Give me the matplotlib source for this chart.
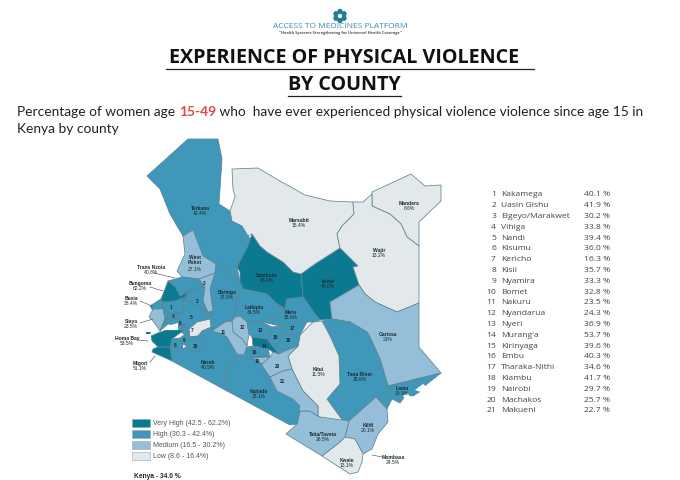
import matplotlib
matplotlib.use("Agg")
import matplotlib.pyplot as plt
from matplotlib.patches import Polygon, Rectangle, Circle

# table on the right
table_names = ["Kakamega", "Uasin Gishu", "Elgeyo/Marakwet", "Vihiga", "Nandi", "Kisumu", "Kericho",
               "Kisii", "Nyamira", "Bomet", "Nakuru", "Nyandarua", "Nyeri", "Murang'a", "Kirinyaga",
               "Embu", "Tharaka-Nithi", "Kiambu", "Nairobi", "Machakos", "Makueni"]
table_values = [40.1, 41.9, 30.2, 33.8, 39.4, 36.0, 16.3, 35.7, 33.3, 32.8, 23.5, 24.3, 36.9, 53.7,
                39.6, 40.3, 34.6, 41.7, 29.7, 25.7, 22.7]

# counties named directly on the map
other_names = ["Turkana", "West Pokot", "Marsabit", "Mandera", "Wajir", "Samburu", "Isiolo", "Garissa",
               "Tana River", "Lamu", "Kitui", "Kilifi", "Kwale", "Mombasa", "Taita/Taveta", "Kajiado",
               "Narok", "Baringo", "Laikipia", "Meru", "Trans Nzoia", "Bungoma", "Busia", "Siaya",
               "Homa Bay", "Migori"]
other_values = [42.4, 27.1, 15.4, 8.6, 13.2, 46.9, 46.0, 21.0, 35.6, 30.9, 11.5, 20.1, 13.1, 24.5,
                26.5, 36.1, 40.5, 37.9, 34.5, 35.6, 40.8, 62.2, 38.4, 23.5, 53.5, 51.1]
other_texts = ["42.4%", "27.1%", "15.4%", "8.6%", "13.2%", "46.9%", "46.0%", "21%", "35.6%", "30.9%",
               "11.5%", "20.1%", "13.1%", "24.5%", "26.5%", "36.1%", "40.5%", "37.9%", "34.5%",
               "35.6%", "40.8%", "62.2%", "38.4%", "23.5%", "53.5%", "51.1%"]

legend_labels = ["Very High (42.5 - 62.2%)", "High (30.3 - 42.4%)", "Medium (16.5 - 30.2%)", "Low (8.6 - 16.4%)"]
legend_colors = ["#0b7a90", "#3f98b9", "#95bfd9", "#e3e9ea"]
class_limits = [42.4, 30.2, 16.4]

values = dict(zip(table_names + other_names, table_values + other_values))

# county outlines, pixel coordinates
shapes = {
    "Turkana": [(147, 177), (188, 140), (218, 140), (222, 160), (219, 205), (230, 212), (232, 222), (242, 227),
                (248, 237), (252, 242), (237, 268), (240, 283), (216, 265), (203, 257), (193, 231), (183, 237),
                (177, 227), (170, 215), (160, 190)],
    "West Pokot": [(193, 231), (183, 237), (185, 255), (177, 272), (182, 278), (199, 280), (215, 274), (216, 265),
                   (203, 257)],
    "Baringo": [(216, 265), (240, 283), (243, 290), (237, 298), (235, 318), (232, 322), (225, 323), (212, 332),
                (212, 328), (209, 320), (213, 312), (210, 290), (215, 274)],
    "Samburu": [(252, 235), (260, 247), (267, 253), (283, 263), (293, 273), (301, 275), (303, 298), (287, 300),
                (285, 310), (276, 304), (267, 295), (257, 293), (243, 290), (240, 283), (240, 273), (237, 268),
                (248, 247)],
    "Isiolo": [(340, 249), (358, 267), (353, 268), (359, 286), (330, 303), (332, 320), (320, 321), (315, 315),
               (303, 298), (301, 275), (315, 265)],
    "Marsabit": [(232, 170), (258, 169), (280, 182), (305, 196), (330, 202), (353, 203), (354, 215), (342, 227),
                 (337, 235), (340, 249), (315, 265), (301, 275), (293, 273), (283, 263), (267, 253), (260, 247),
                 (252, 235), (248, 237), (242, 227), (232, 222), (230, 212), (235, 198), (233, 190)],
    "Mandera": [(372, 193), (411, 175), (425, 187), (441, 186), (441, 202), (419, 223), (419, 247), (407, 238),
                (401, 225), (390, 215), (372, 207)],
    "Wajir": [(353, 203), (363, 203), (372, 195), (372, 207), (390, 215), (401, 225), (407, 238), (419, 247),
              (419, 304), (397, 313), (375, 303), (365, 295), (359, 286), (353, 268), (358, 267), (340, 249),
              (337, 235), (342, 227), (354, 215)],
    "Garissa": [(359, 286), (330, 303), (332, 320), (350, 323), (367, 333), (370, 338), (380, 360), (388, 387),
                (441, 374), (419, 348), (419, 304), (397, 313), (375, 303), (365, 295)],
    "Lamu": [(388, 387), (441, 374), (427, 385), (421, 392), (413, 397), (406, 396), (400, 404), (392, 400)],
    "Tana River": [(322, 322), (332, 320), (350, 323), (367, 333), (370, 338), (380, 360), (388, 387), (392, 400),
                   (387, 410), (376, 398), (349, 422), (343, 422), (327, 400), (340, 385), (339, 357), (330, 337)],
    "Kitui": [(313, 323), (322, 322), (330, 337), (339, 357), (340, 385), (327, 400), (343, 422), (327, 421),
              (318, 417), (318, 407), (303, 392), (292, 370), (288, 357), (298, 347), (300, 336)],
    "Kilifi": [(376, 398), (387, 410), (388, 423), (378, 435), (372, 450), (363, 455), (355, 440), (345, 438),
               (349, 422)],
    "Kwale": [(345, 438), (355, 440), (363, 455), (362, 463), (358, 473), (350, 475), (322, 457), (340, 443)],
    "Taita/Taveta": [(300, 412), (310, 412), (320, 418), (349, 422), (345, 438), (340, 443), (322, 457), (286, 435),
                     (297, 425)],
    "Kajiado": [(237, 355), (248, 358), (258, 358), (262, 365), (263, 368), (270, 378), (277, 392), (293, 400),
                (300, 407), (297, 425), (290, 426), (227, 392), (225, 373)],
    "Narok": [(170, 348), (172, 340), (182, 345), (183, 350), (187, 347), (190, 352), (200, 352), (203, 343),
              (198, 337), (202, 332), (211, 328), (212, 332), (222, 335), (227, 338), (237, 355), (225, 373),
              (227, 392), (172, 362)],
    "Laikipia": [(237, 298), (243, 290), (257, 293), (267, 295), (276, 304), (285, 310), (277, 317), (262, 323),
                 (247, 323), (240, 317), (235, 318)],
    "Meru": [(285, 310), (287, 300), (303, 298), (315, 315), (320, 321), (313, 323), (307, 323), (280, 327),
             (262, 323), (277, 317)],
    "Tharaka-Nithi": [(280, 327), (307, 323), (300, 336), (282, 335)],
    "Kirinyaga": [(272, 328), (280, 327), (282, 335), (279, 345), (273, 348), (267, 340), (270, 335)],
    "Embu": [(282, 335), (300, 336), (298, 347), (285, 352), (279, 355), (273, 348), (279, 345)],
    "Nyandarua": [(235, 318), (240, 317), (247, 323), (249, 335), (247, 347), (242, 340), (233, 333), (232, 322)],
    "Nakuru": [(212, 332), (225, 323), (232, 322), (233, 333), (242, 340), (247, 347), (244, 356), (237, 355),
               (227, 338), (222, 335)],
    "Nyeri": [(247, 323), (262, 323), (272, 328), (270, 335), (267, 340), (252, 338), (249, 335)],
    "Murang'a": [(252, 338), (267, 340), (273, 348), (279, 355), (273, 353), (268, 350), (253, 347)],
    "Kiambu": [(247, 348), (253, 347), (268, 350), (270, 358), (258, 358), (248, 358), (244, 356)],
    "Nairobi": [(252, 359), (270, 358), (262, 365)],
    "Machakos": [(262, 365), (270, 358), (273, 353), (279, 355), (285, 352), (298, 347), (288, 357), (292, 370),
                 (283, 372), (270, 378), (263, 368)],
    "Makueni": [(270, 378), (283, 372), (292, 370), (303, 392), (318, 407), (318, 417), (310, 412), (300, 412),
                (297, 425), (300, 407), (293, 400), (277, 392)],
    "Trans Nzoia": [(168, 282), (175, 280), (182, 278), (199, 280), (205, 288), (200, 288), (188, 293), (180, 297),
                    (175, 288)],
    "Uasin Gishu": [(200, 288), (205, 288), (203, 302), (207, 312), (197, 307), (183, 300), (187, 298), (188, 293)],
    "Elgeyo/Marakwet": [(199, 280), (215, 274), (210, 290), (213, 312), (208, 313), (203, 302), (205, 288)],
    "Bungoma": [(168, 282), (175, 288), (180, 297), (188, 293), (185, 298), (175, 302), (163, 303), (161, 300),
                (165, 290)],
    "Kakamega": [(163, 304), (175, 302), (183, 300), (184, 313), (170, 315), (162, 307)],
    "Busia": [(150, 307), (161, 300), (162, 307), (163, 310), (153, 312)],
    "Siaya": [(153, 310), (163, 310), (165, 320), (160, 332), (153, 322), (149, 318)],
    "Vihiga": [(168, 315), (180, 314), (178, 320), (167, 320)],
    "Nandi": [(184, 313), (183, 300), (197, 307), (207, 312), (204, 322), (188, 330), (178, 320), (180, 314)],
    "Kisumu": [(167, 320), (178, 320), (188, 330), (178, 325), (168, 325), (160, 332), (165, 320)],
    "Kericho": [(189, 330), (197, 323), (210, 320), (211, 328), (202, 332), (198, 337), (190, 338)],
    "Nyamira": [(180, 339), (188, 333), (188, 340), (187, 347), (182, 345)],
    "Kisii": [(172, 340), (180, 339), (182, 345), (183, 350), (170, 348)],
    "Bomet": [(190, 338), (198, 337), (203, 343), (200, 352), (190, 352), (187, 347), (188, 340)],
    "Homa Bay": [(151, 337), (160, 333), (165, 331), (184, 331), (172, 340), (170, 348), (158, 348), (152, 342)],
    "Migori": [(153, 350), (158, 348), (170, 348), (172, 362), (152, 353)],
}

# filler under the western counties, white water on top of them
west_fill = [(175, 280), (199, 280), (215, 274), (213, 332), (190, 340), (165, 322), (150, 307), (161, 300)]
water = [[(160, 333), (167, 327), (178, 324), (178, 331), (165, 331)],
         [(415, 391), (423, 385), (427, 388), (421, 393)],
         [(403, 397), (408, 394), (409, 397), (405, 400)]]
island = [(146, 333), (151, 333), (150, 335), (146, 335)]

# where the names go on the map (name centre)
label_pos = {"Turkana": (200, 211), "West Pokot": (195, 265), "Marsabit": (299, 223), "Mandera": (409, 206),
             "Wajir": (379, 253), "Samburu": (267, 278), "Isiolo": (328, 284), "Garissa": (388, 337),
             "Tana River": (360, 377), "Lamu": (402, 391), "Kitui": (318, 372), "Kilifi": (368, 428),
             "Kwale": (347, 463), "Taita/Taveta": (323, 437), "Kajiado": (259, 394), "Narok": (208, 365),
             "Baringo": (227, 295), "Laikipia": (254, 310), "Meru": (291, 315)}
callouts = {"Trans Nzoia": ((151, 270), (154, 274), (175, 279)), "Bungoma": ((140, 286), (150, 288), (163, 292)),
            "Busia": ((131, 301), (140, 302), (152, 307)), "Siaya": ((131, 324), (140, 324), (153, 320)),
            "Homa Bay": ((127, 341), (138, 341), (148, 342)), "Migori": ((140, 366), (150, 363), (155, 357)),
            "Mombasa": ((393, 460), (382, 458), (372, 456))}

num_pos = [(171, 308), (197, 302), (204, 284), (173, 317), (191, 318), (180, 324), (192, 331), (175, 346),
           (184, 341), (195, 347), (223, 333), (242, 328), (260, 331), (264, 347), (275, 338), (288, 341),
           (292, 329), (254, 353), (257, 362), (277, 367), (283, 382)]


def county_color(v):
    for lim, col in zip(class_limits, legend_colors):
        if v > lim:
            return col
    return legend_colors[-1]


def county_label(ax, name, x, y):
    # name in bold, value under it
    lines = name.replace("West Pokot", "West\nPokot")
    val = other_texts[other_names.index(name)]
    n = lines.count("\n") + 1
    ax.text(x, y - 2.6 - (n - 1) * 2, lines, ha="center", va="center", fontsize=3.6, family="Liberation Sans",
            fontweight="bold", color="#1c2a30", linespacing=1.05)
    ax.text(x, y + 2.6 + (n - 1) * 2, val, ha="center", va="center", fontsize=3.6, family="Liberation Sans",
            color="#1c2a30")


fig = plt.figure(figsize=(6.8, 4.81), dpi=100)
ax = fig.add_axes([0, 0, 1, 1])
ax.set_xlim(0, 680)
ax.set_ylim(481, 0)
ax.axis("off")

# logo
for dx, dy in [(0, -4.5), (4, -2.2), (4, 2.2), (0, 4.5), (-4, 2.2), (-4, -2.2)]:
    ax.add_patch(Circle((340 + dx, 17 + dy), 2.7, color="#1f7d96", lw=0))
ax.add_patch(Circle((340, 17), 1.8, color="white", lw=0))
ax.text(340.5, 27, "ACCESS TO MEDICINES PLATFORM", ha="center", va="center", fontsize=6.0,
        family="Open Sans", color="#3f86b8")
ax.text(340.5, 33, "\"Health Systems Strengthening for Universal Health Coverage\"", ha="center", va="center",
        fontsize=2.9, family="Open Sans", color="#555555", fontweight="bold")

# title
ax.text(344.5, 58, "EXPERIENCE OF PHYSICAL VIOLENCE", ha="center", va="center", fontsize=14.2, family="Open Sans",
        fontweight="bold", color="#111111")
ax.text(344.5, 85, "BY COUNTY", ha="center", va="center", fontsize=14.2, family="Open Sans", fontweight="bold",
        color="#111111")
ax.plot([166, 534], [70, 70], color="#222222", lw=0.9)
ax.plot([288, 401], [96.5, 96.5], color="#222222", lw=0.9)

# subtitle pieces, each placed after the one before
renderer = fig.canvas.get_renderer()
x = 17
for txt, col, wt in [("Percentage of women age ", "#222222", "normal"), ("15-49", "#e04a3f", "bold"),
                     (" who  have ever experienced physical violence violence since age 15 in", "#222222", "normal")]:
    t = ax.text(x, 112, txt, ha="left", va="center", fontsize=9.9, family="Lato", color=col, fontweight=wt)
    x = t.get_window_extent(renderer).x1
ax.text(17, 129, "Kenya by county", ha="left", va="center", fontsize=9.9, family="Lato", color="#222222")

# map
ax.add_patch(Polygon(west_fill, closed=True, facecolor=legend_colors[1], edgecolor="none"))
for name, pts in shapes.items():
    ax.add_patch(Polygon(pts, closed=True, facecolor=county_color(values[name]), edgecolor="#5f8492", lw=0.55,
                         joinstyle="round"))
for pts in water:
    ax.add_patch(Polygon(pts, closed=True, facecolor="white", edgecolor="none"))
ax.add_patch(Polygon(island, closed=True, facecolor=legend_colors[0], edgecolor="none"))

for name, (lx, ly) in label_pos.items():
    county_label(ax, name, lx, ly)

for name, (tp, a, b) in callouts.items():
    county_label(ax, name, tp[0], tp[1])
    ax.plot([a[0], b[0]], [a[1], b[1]], color="#444444", lw=0.4)

# number tags on the small counties
for i, (nx, ny) in enumerate(num_pos):
    ax.text(nx, ny, str(i + 1), ha="center", va="center", fontsize=3.4, family="Liberation Sans",
            color="#1c2a30", fontweight="bold")

# legend
for i, (lab, col) in enumerate(zip(legend_labels, legend_colors)):
    y = 420 + i * 11
    ax.add_patch(Rectangle((132, y), 18, 7.5, facecolor=col, edgecolor="#9aa7ab", lw=0.4))
    ax.text(153, y + 3.8, lab, ha="left", va="center", fontsize=5.0, family="Liberation Sans", color="#555555")
ax.text(134, 477, "Kenya - 34.0 %", ha="left", va="center", fontsize=4.8, family="Liberation Sans",
        fontweight="bold", color="#222222")

# county table
for i, (name, v) in enumerate(zip(table_names, table_values)):
    y = 195 + i * 10.8
    ax.text(496, y, str(i + 1), ha="right", va="center", fontsize=6.1, family="Open Sans", color="#444444")
    ax.text(501, y, name, ha="left", va="center", fontsize=6.1, family="Open Sans", color="#444444")
    ax.text(584, y, f"{v:.1f} %", ha="left", va="center", fontsize=6.1, family="Open Sans", color="#444444")

fig.savefig("out.png", dpi=100)
